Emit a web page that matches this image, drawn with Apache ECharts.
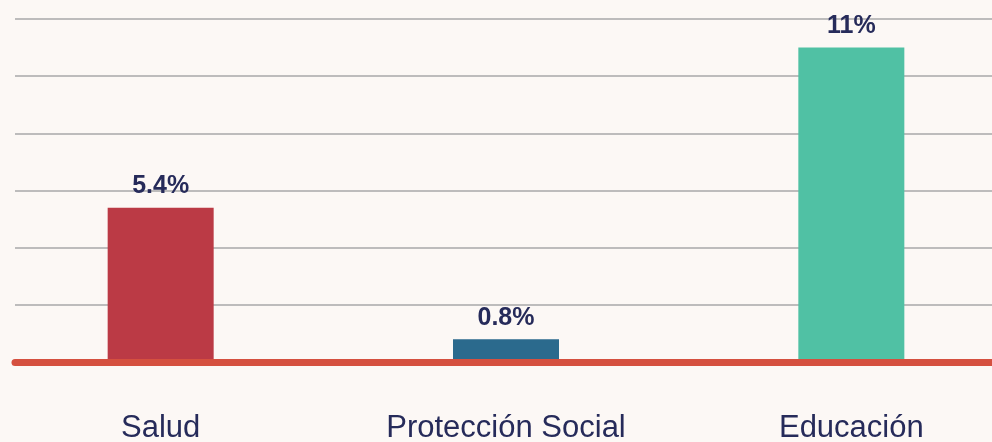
<!DOCTYPE html>
<html>
<head>
<meta charset="utf-8">
<script src="https://cdn.jsdelivr.net/npm/echarts@6/dist/echarts.min.js"></script>
<style>
  html, body { margin: 0; padding: 0; background: #fcf8f5; }
  #chart { width: 992px; height: 442px; }
</style>
</head>
<body>
<div id="chart"></div>
<script>
// datos
const categories = ["Salud", "Protección Social", "Educación"];
const values = [5.4, 0.8, 11];
const valueLabels = ["5.4%", "0.8%", "11%"];
const barColors = ["#bb3a45", "#2b6a8d", "#50c1a4"];

const navy = "#262b5a";
const font = "Liberation Sans, Arial, sans-serif";

const chart = echarts.init(document.getElementById("chart"));

const option = {
  backgroundColor: "#fcf8f5",
  animation: false,
  grid: [
    // grid de las barras (las bandas salen un poco del lienzo)
    { left: -12, width: 1036, top: 19, bottom: 80, outerBoundsMode: "none" },
    // grid solo para lineas de fondo y linea base
    { left: 15, right: 0, top: 19, bottom: 80, outerBoundsMode: "none" },
  ],
  xAxis: [
    {
      type: "category",
      gridIndex: 0,
      data: categories,
      axisLine: { show: false },
      axisTick: { show: false },
      axisLabel: {
        margin: 51,
        color: navy,
        fontSize: 31,
        fontFamily: font,
      },
    },
    {
      type: "value",
      gridIndex: 1,
      min: 0,
      max: 1,
      z: 5,
      axisLine: {
        show: true,
        lineStyle: { color: "#d5503f", width: 7, cap: "round" },
      },
      axisTick: { show: false },
      axisLabel: { show: false },
      splitLine: { show: false },
    },
  ],
  yAxis: [
    {
      type: "value",
      gridIndex: 0,
      min: 0,
      max: 12,
      interval: 2,
      show: false,
    },
    {
      type: "value",
      gridIndex: 1,
      min: 0,
      max: 12,
      interval: 2,
      axisLine: { show: false },
      axisTick: { show: false },
      axisLabel: { show: false },
      splitLine: { lineStyle: { color: "#a9a9a9", width: 1.5 } },
    },
  ],
  series: [
    {
      type: "bar",
      xAxisIndex: 0,
      yAxisIndex: 0,
      barWidth: 106,
      data: values.map((v, i) => ({
        value: v,
        itemStyle: { color: barColors[i] },
      })),
      label: {
        show: true,
        position: "top",
        distance: 9,
        color: navy,
        fontSize: 25,
        fontWeight: "bold",
        fontFamily: font,
        formatter: (p) => valueLabels[p.dataIndex],
      },
    },
  ],
};

chart.setOption(option);
</script>
</body>
</html>
